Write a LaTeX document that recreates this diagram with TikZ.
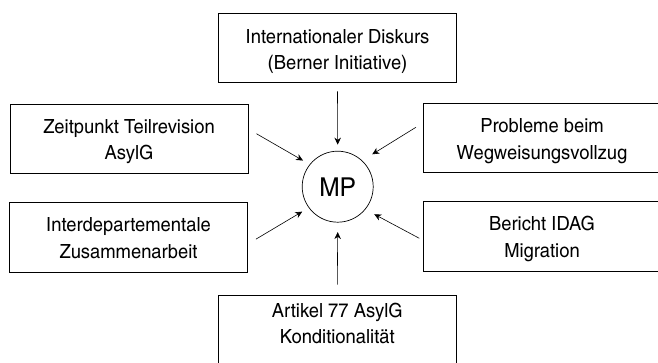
\documentclass[tikz,border=0pt]{standalone}
\usepackage{fontspec}
\setmainfont{texgyreheroscn-regular.otf}[FakeStretch=1.15]
\usepackage{tikz}
\usetikzlibrary{arrows.meta}

\begin{document}
\begin{tikzpicture}[x=1pt, y=1pt,
		factorbox/.style={draw, line width=0.8pt, minimum width=238pt, minimum height=69.5pt, align=center, inner sep=0pt, text height=42.6pt, text depth=0pt, font=\fontsize{19.5}{26.6}\selectfont},
		mpcircle/.style={draw, circle, line width=0.7pt, minimum size=71pt, inner sep=0pt, font=\fontsize{26}{28}\selectfont},
		infl/.style={-{Stealth[length=7pt, width=6.5pt]}, line width=0.6pt}]
						\useasboundingbox (0, 0) rectangle (658, 363);
						\node[mpcircle] (mp) at (337.7, 176.3) {MP};
						\node[factorbox, text height=44.3pt] (diskurs) at (337.5, 315.25) {Internationaler Diskurs\\(Berner Initiative)};
						\node[factorbox] (revision) at (129, 224.3) {Zeitpunkt Teilrevision\\AsylG};
						\node[factorbox] (vollzug) at (542, 225.2) {Probleme beim\\Wegweisungsvollzug};
						\node[factorbox] (zusammen) at (128.5, 125.8) {Interdepartementale\\Zusammenarbeit};
						\node[factorbox] (idag) at (542, 126.8) {Bericht IDAG\\Migration};
						\node[factorbox, text height=26.9pt] (artikel) at (337.3, 32.55) {Artikel 77 AsylG\\Konditionalit\"at};
						% Einfluesse auf MP
						\draw[infl] ([shift={(0,-8.5)}]diskurs.south) -- ([shift={(0,6.2)}]mp.north);
						\draw[infl] ([shift={(8,5)}]revision.east) -- ([shift={(143:7.6)}]mp.143);
						\draw[infl] ([shift={(-6.7,10.5)}]vollzug.west) -- ([shift={(43.6:11.5)}]mp.43.6);
						\draw[infl] ([shift={(8,-2)}]zusammen.east) -- ([shift={(215.5:7.5)}]mp.215.5);
						\draw[infl] ([shift={(-3.3,-2.1)}]idag.west) -- ([shift={(-37:9.9)}]mp.-37);
						\draw[infl] ([shift={(0,10.7)}]artikel.north) -- ([shift={(0,-9.5)}]mp.south);
					\end{tikzpicture}
\end{document}
